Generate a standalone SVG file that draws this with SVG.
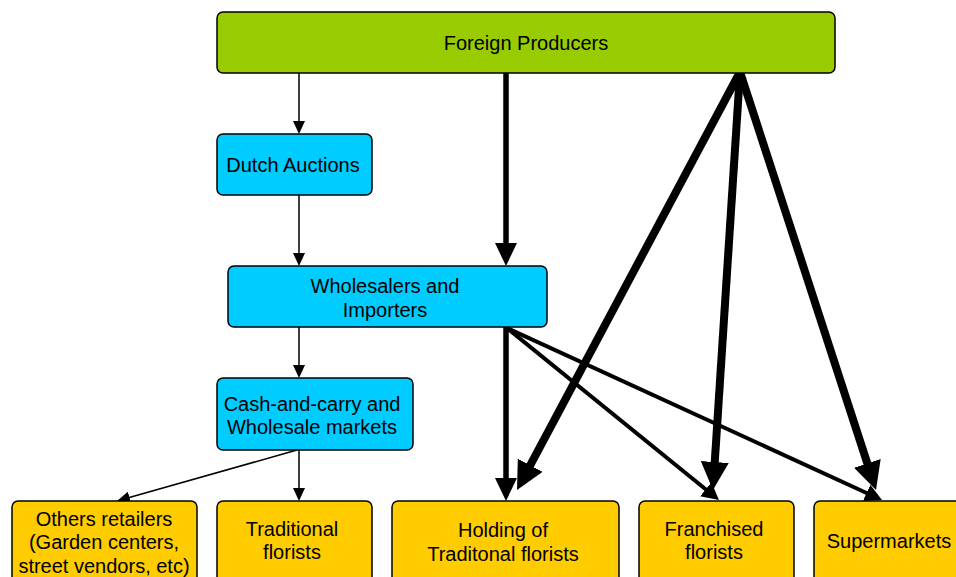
<svg xmlns="http://www.w3.org/2000/svg" width="956" height="577" viewBox="0 0 956 577">
  <style>
    .box { stroke: #000; stroke-width: 1.5; }
    .green { fill: #99cc00; }
    .blue { fill: #00ccff; }
    .yellow { fill: #ffcc00; }
    text { font-family: "Liberation Sans", Arial, sans-serif; font-size: 20px; fill: #000; text-anchor: middle; }
    .c { stroke: #000; fill: none; stroke-linecap: butt; }
    .thin { stroke-width: 1.5; marker-end: url(#mThin); }
    .mid { stroke-width: 4; marker-end: url(#mMid); }
    .thick { stroke-width: 5.5; marker-end: url(#mThick); }
    .heavy { stroke-width: 8; marker-end: url(#mHeavy); }
  </style>
  <defs>
    <marker id="mThin" markerUnits="userSpaceOnUse" markerWidth="13" markerHeight="12" refX="3" refY="6" orient="auto">
      <path d="M0,0 L13,6 L0,12 Z" fill="#000"/>
    </marker>
    <marker id="mMid" markerUnits="userSpaceOnUse" markerWidth="17" markerHeight="18" refX="3" refY="9" orient="auto">
      <path d="M0,0 L17,9 L0,18 Z" fill="#000"/>
    </marker>
    <marker id="mThick" markerUnits="userSpaceOnUse" markerWidth="23" markerHeight="22" refX="4" refY="11" orient="auto">
      <path d="M0,0 L23,11 L0,22 Z" fill="#000"/>
    </marker>
    <marker id="mHeavy" markerUnits="userSpaceOnUse" markerWidth="28" markerHeight="28" refX="4" refY="14" orient="auto">
      <path d="M0,0 L28,14 L0,28 Z" fill="#000"/>
    </marker>
  </defs>

  <g id="connectors">
    <line class="c thin" x1="299" y1="73" x2="299" y2="124"/>
    <line class="c thin" x1="299" y1="195" x2="299" y2="256"/>
    <line class="c thin" x1="299" y1="327" x2="299" y2="368"/>
    <line class="c thin" x1="299" y1="450" x2="299" y2="491"/>
    <line class="c thin" x1="297" y1="450" x2="126.6" y2="498.3"/>
    <line class="c thick" x1="506" y1="73" x2="506" y2="247"/>
    <line class="c thick" x1="506" y1="327" x2="506" y2="482"/>
    <line class="c mid" x1="507" y1="328" x2="708.1" y2="491.2"/>
    <line class="c mid" x1="507" y1="328" x2="869.3" y2="494.2"/>
    <line class="c heavy" x1="740" y1="72" x2="528.3" y2="468.8"/>
    <line class="c heavy" x1="740" y1="72" x2="714.5" y2="466"/>
    <line class="c heavy" x1="740" y1="72" x2="868.6" y2="467.2"/>
  </g>

  <g id="foreign-producers">
    <rect class="box green" x="217" y="12" width="618" height="61" rx="6"/>
    <text x="526" y="50">Foreign Producers</text>
  </g>
  <g id="dutch-auctions">
    <rect class="box blue" x="217" y="134" width="155" height="61" rx="6"/>
    <text x="293" y="172">Dutch Auctions</text>
  </g>
  <g id="wholesalers-importers">
    <rect class="box blue" x="228" y="266" width="319" height="61" rx="6"/>
    <text x="385" y="293">Wholesalers and</text>
    <text x="385" y="317">Importers</text>
  </g>
  <g id="cash-and-carry">
    <rect class="box blue" x="217" y="378" width="196" height="72" rx="6"/>
    <text x="312" y="411">Cash-and-carry and</text>
    <text x="312" y="434">Wholesale markets</text>
  </g>
  <g id="others-retailers">
    <rect class="box yellow" x="12" y="501" width="185" height="90" rx="6"/>
    <text x="104" y="526">Others retailers</text>
    <text x="104" y="549">(Garden centers,</text>
    <text x="104" y="573">street vendors, etc)</text>
  </g>
  <g id="traditional-florists">
    <rect class="box yellow" x="217" y="501" width="155" height="90" rx="6"/>
    <text x="292" y="536">Traditional</text>
    <text x="292" y="559">florists</text>
  </g>
  <g id="holding-traditional-florists">
    <rect class="box yellow" x="392" y="501" width="227" height="90" rx="6"/>
    <text x="503" y="537">Holding of</text>
    <text x="503" y="561">Traditonal florists</text>
  </g>
  <g id="franchised-florists">
    <rect class="box yellow" x="639" y="501" width="155" height="90" rx="6"/>
    <text x="714" y="536">Franchised</text>
    <text x="714" y="559">florists</text>
  </g>
  <g id="supermarkets">
    <rect class="box yellow" x="814" y="501" width="155" height="90" rx="6"/>
    <text x="889" y="548">Supermarkets</text>
  </g>
</svg>
